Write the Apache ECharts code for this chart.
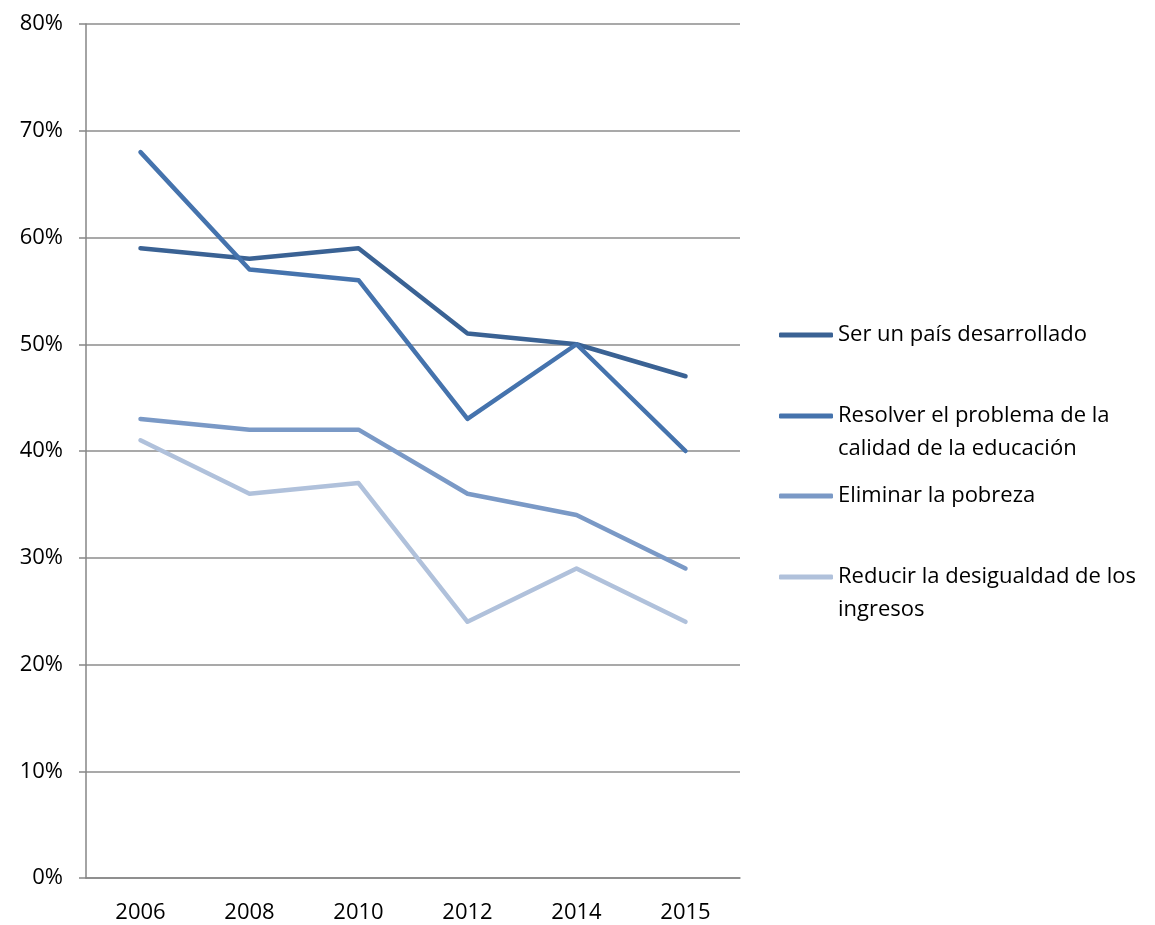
<!DOCTYPE html>
<html>
<head>
<meta charset="utf-8">
<script src="https://cdn.jsdelivr.net/npm/echarts@6/dist/echarts.min.js"></script>
<style>
  html, body { margin: 0; padding: 0; background: #fff; }
  #chart { width: 1155px; height: 925px; }
</style>
</head>
<body>
<div id="chart"></div>
<script>
// datos (porcentaje)
const years = ["2006", "2008", "2010", "2012", "2014", "2015"];
const desarrollado = [59, 58, 59, 51, 50, 47];
const educacion = [68, 57, 56, 43, 50, 40];
const pobreza = [43, 42, 42, 36, 34, 29];
const desigualdad = [41, 36, 37, 24, 29, 24];

const names = [
  "Ser un país desarrollado",
  "Resolver el problema de la",
  "Eliminar la pobreza",
  "Reducir la desigualdad de los",
];
// segunda línea de las leyendas largas
const secondLines = ["", "calidad de la educación", "", "ingresos"];
const colors = ["#3a6294", "#4573ad", "#7a99c6", "#b0c1db"];
const legendY = [335, 416, 496, 577];

const font = "'Open Sans', 'Noto Sans', sans-serif";
const fontSize = 22;

let chart = echarts.init(document.getElementById("chart"));

function legendFor(i) {
  return {
    data: [names[i]],
    left: 779,
    top: legendY[i] - 16,
    orient: "vertical",
    icon: "roundRect",
    itemWidth: 54,
    itemHeight: 5,
    itemGap: 0,
    padding: 0,
    textStyle: { fontFamily: font, fontSize: fontSize, color: "#000", lineHeight: 32 },
  };
}

const extraText = [];
secondLines.forEach((t, i) => {
  if (!t) return;
  extraText.push({
    type: "text",
    left: 838,
    top: legendY[i] + 22,
    style: { text: t, font: fontSize + "px " + font, fill: "#000" },
  });
});

chart.setOption({
  animation: false,
  grid: { left: 86, right: 415, top: 24, bottom: 47 },
  legend: [0, 1, 2, 3].map(legendFor),
  graphic: extraText,
  xAxis: {
    type: "category",
    data: years,
    boundaryGap: true,
    axisLine: { lineStyle: { color: "#868686", width: 1.5 } },
    axisTick: { length: 7, lineStyle: { color: "#868686", width: 1.5 } },
    axisLabel: { fontFamily: font, fontSize: fontSize, color: "#000", margin: 24 },
  },
  yAxis: {
    type: "value",
    min: 0,
    max: 80,
    interval: 10,
    axisLine: { show: true, lineStyle: { color: "#868686", width: 1.5 } },
    axisTick: { show: true, length: 7, lineStyle: { color: "#868686", width: 1.5 } },
    splitLine: { lineStyle: { color: "#8c8c8c", width: 1.5 } },
    axisLabel: {
      fontFamily: font,
      fontSize: fontSize,
      color: "#000",
      margin: 23,
      formatter: "{value}%",
    },
  },
  series: [desarrollado, educacion, pobreza, desigualdad].map((d, i) => ({
    name: names[i],
    type: "line",
    data: d,
    symbol: "none",
    color: colors[i],
    lineStyle: { width: 4.5, cap: "round", join: "round" },
  })),
});
</script>
</body>
</html>
